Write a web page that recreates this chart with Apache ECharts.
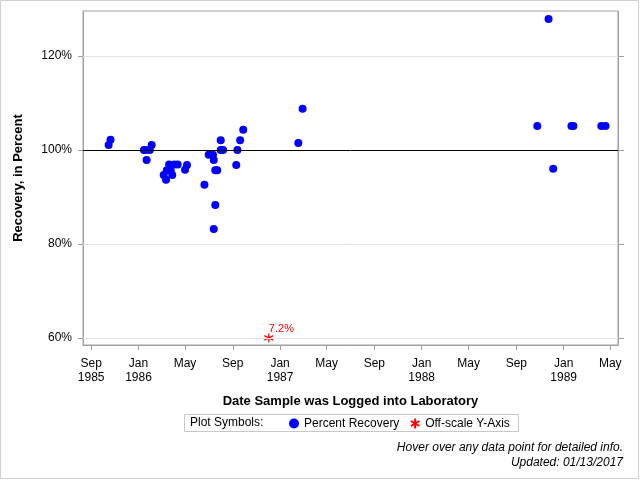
<!DOCTYPE html>
<html>
<head>
<meta charset="utf-8">
<script src="https://cdn.jsdelivr.net/npm/echarts@6/dist/echarts.min.js"></script>
<style>
  html, body { margin: 0; padding: 0; background: #fff; }
  #chart { width: 640px; height: 480px; }
</style>
</head>
<body>
<div id="chart"></div>
<script>
// sample log dates and percent recovery
const recoveryDates = [
  '1985-10-16', '1985-10-21',
  '1986-01-15', '1986-01-19', '1986-01-22', '1986-01-30', '1986-02-04',
  '1986-03-07', '1986-03-13', '1986-03-15', '1986-03-21', '1986-03-25',
  '1986-03-29', '1986-04-03', '1986-04-12', '1986-05-01', '1986-05-06',
  '1986-06-20', '1986-07-01', '1986-07-12', '1986-07-14', '1986-07-14',
  '1986-07-18', '1986-07-18', '1986-07-23', '1986-08-01', '1986-08-01',
  '1986-08-07', '1986-09-10', '1986-09-13', '1986-09-20', '1986-09-28',
  '1987-02-17', '1987-02-28',
  '1988-10-25', '1988-11-23', '1988-12-05',
  '1989-01-21', '1989-01-26', '1989-04-08', '1989-04-19'
]
const recoveryPct = [
  101.1, 102.2,
  100.0, 100.0, 97.9, 100.0, 101.1,
  94.7, 93.7, 95.7, 96.9, 95.7,
  94.7, 96.9, 96.9, 95.8, 96.8,
  92.6, 99.0, 99.0, 97.9, 83.2,
  95.7, 88.3, 95.7, 102.1, 100.0,
  100.0, 96.8, 100.0, 102.1, 104.3,
  101.5, 108.8,
  105.1, 127.9, 96.0,
  105.1, 105.1, 105.1, 105.1
]

// values below the axis floor
const offscaleDates = ['1986-12-03']
const offscalePct = [7.2]
const offscaleFloor = 60

// axis ticks
const xTickDates = ['1985-09-01', '1986-01-01', '1986-05-01', '1986-09-01', '1987-01-01', '1987-05-01',
  '1987-09-01', '1988-01-01', '1988-05-01', '1988-09-01', '1989-01-01', '1989-05-01']
const xTickLabels = ['Sep\n1985', 'Jan\n1986', 'May', 'Sep', 'Jan\n1987', 'May',
  'Sep', 'Jan\n1988', 'May', 'Sep', 'Jan\n1989', 'May']
const yTicks = [60, 80, 100, 120]

const xMin = '1985-08-11'
const xMax = '1989-05-21'
const yMin = 58.5
const yMax = 129.6

const FONT = '"Liberation Sans", Arial, sans-serif'
const t = s => new Date(s).getTime()
const xTickValues = xTickDates.map(t)
const labelByTime = {}
xTickValues.forEach((v, i) => { labelByTime[v] = xTickLabels[i] })

const asterisk = 'path://M5 0L5 10M0.7 2.5L9.3 7.5M0.7 7.5L9.3 2.5'

const chart = echarts.init(document.getElementById('chart'))
chart.setOption({
  animation: false,
  textStyle: { fontFamily: FONT },
  grid: {
    left: 83,
    right: 22,
    top: 11,
    bottom: 135,
    show: true,
    borderColor: '#a0a0a0',
    borderWidth: 1
  },
  xAxis: {
    type: 'value',
    min: t(xMin),
    max: t(xMax),
    name: 'Date Sample was Logged into Laboratory',
    nameLocation: 'middle',
    nameGap: 50,
    nameTextStyle: { fontSize: 13, fontWeight: 'bold', color: '#000', fontFamily: FONT },
    axisLine: { lineStyle: { color: '#a0a0a0' } },
    axisTick: { customValues: xTickValues, length: 5, lineStyle: { color: '#a0a0a0' } },
    axisLabel: {
      customValues: xTickValues,
      margin: 12,
      fontSize: 12,
      lineHeight: 14,
      color: '#000',
      formatter: v => labelByTime[v] || ''
    },
    splitLine: { show: false }
  },
  yAxis: [{
    type: 'value',
    min: yMin,
    max: yMax,
    name: 'Recovery, in Percent',
    nameLocation: 'middle',
    nameGap: 58,
    nameTextStyle: { fontSize: 13, fontWeight: 'bold', color: '#000', fontFamily: FONT },
    axisLine: { show: true, lineStyle: { color: '#a0a0a0' } },
    axisTick: { show: true, customValues: yTicks, length: 5, lineStyle: { color: '#a0a0a0' } },
    axisLabel: {
      customValues: yTicks,
      margin: 11,
      fontSize: 12,
      color: '#000',
      formatter: v => v + '%'
    },
    splitLine: { show: false }
  }, {
    type: 'value',
    position: 'right',
    min: yMin,
    max: yMax,
    axisLine: { show: true, lineStyle: { color: '#a0a0a0' } },
    axisTick: { show: true, customValues: yTicks, length: 6, lineStyle: { color: '#a0a0a0' } },
    axisLabel: { show: false },
    splitLine: { show: false }
  }],
  legend: {
    left: 289,
    top: 416,
    itemWidth: 10,
    itemHeight: 10,
    itemGap: 9,
    padding: 0,
    textStyle: { fontSize: 12, color: '#000', fontFamily: FONT },
    data: ['Percent Recovery', 'Off-scale Y-Axis']
  },
  graphic: [
    { type: 'rect', shape: { x: 0.5, y: 0.5, width: 638, height: 478 }, style: { fill: 'none', stroke: '#d0d0d0' }, silent: true },
    { type: 'rect', shape: { x: 184.5, y: 414.5, width: 334, height: 17 }, style: { fill: 'none', stroke: '#c8c8c8' }, silent: true },
    { type: 'text', left: 190, top: 417, style: { text: 'Plot Symbols:', font: '12px ' + FONT, fill: '#000' } },
    { type: 'text', right: 17, top: 442, style: { text: 'Hover over any data point for detailed info.', font: 'italic 12px ' + FONT, fill: '#000' } },
    { type: 'text', right: 17, top: 457, style: { text: 'Updated: 01/13/2017', font: 'italic 12px ' + FONT, fill: '#000' } }
  ],
  series: [{
    name: 'Percent Recovery',
    type: 'scatter',
    symbol: 'circle',
    symbolSize: 8,
    itemStyle: { color: '#0000ff', opacity: 1 },
    data: recoveryDates.map((d, i) => [t(d), recoveryPct[i]]),
    markLine: {
      silent: true,
      symbol: 'none',
      label: { show: false },
      data: [
        { yAxis: 60, lineStyle: { color: '#e4e4e4', type: 'solid', width: 1 } },
        { yAxis: 80, lineStyle: { color: '#e4e4e4', type: 'solid', width: 1 } },
        { yAxis: 120, lineStyle: { color: '#e4e4e4', type: 'solid', width: 1 } },
        { yAxis: 100, lineStyle: { color: '#000', type: 'solid', width: 1 } }
      ]
    },
    z: 3
  }, {
    name: 'Off-scale Y-Axis',
    type: 'scatter',
    symbol: asterisk,
    symbolSize: 9,
    itemStyle: { color: 'none', borderColor: '#ff0000', borderWidth: 1.3, opacity: 1 },
    label: {
      show: true,
      position: [7, -7],
      color: '#ff0000',
      fontSize: 11,
      fontFamily: FONT,
      formatter: p => offscalePct[p.dataIndex] + '%'
    },
    data: offscaleDates.map(d => [t(d), offscaleFloor]),
    z: 4
  }]
})
</script>
</body>
</html>
